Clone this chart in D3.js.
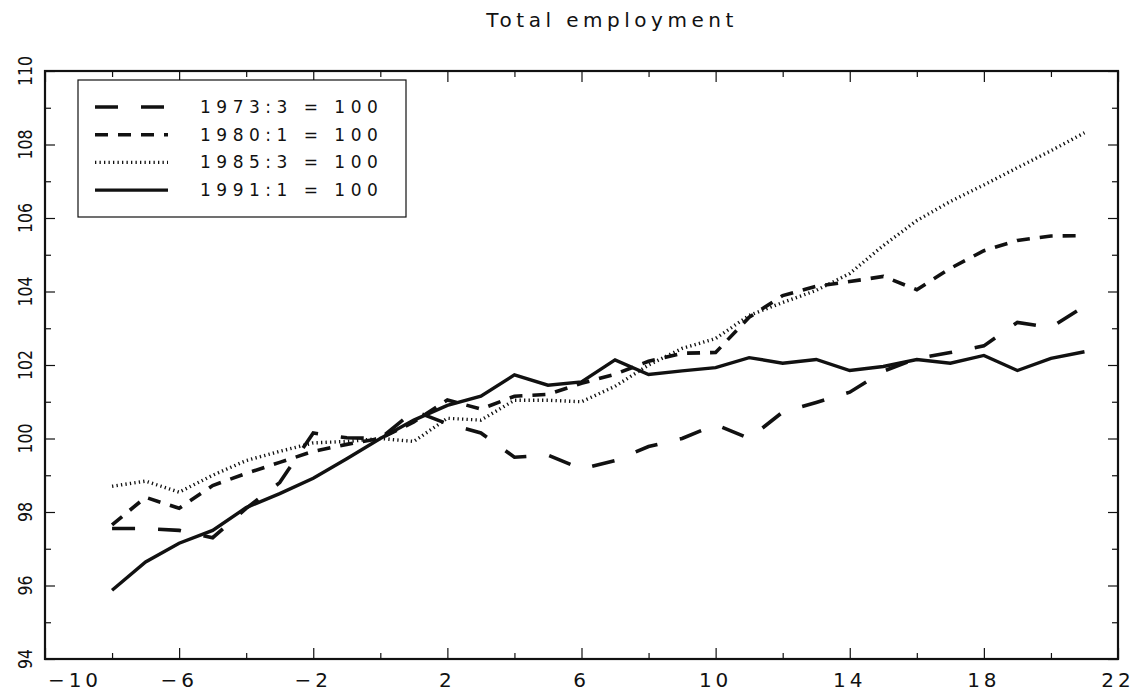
<!DOCTYPE html>
<html>
<head>
<meta charset="utf-8">
<script src="https://cdn.jsdelivr.net/npm/d3@7"></script>
<style>
  html, body { margin: 0; padding: 0; background: #fff; }
  svg { display: block; }
  text { font-family: "DejaVu Sans", sans-serif; fill: #111; }
</style>
</head>
<body>
<svg id="chart" width="1141" height="693"></svg>
<script>
// Quarters relative to the base quarter (base = 100)
const quarters = [-8,-7,-6,-5,-4,-3,-2,-1,0,1,2,3,4,5,6,7,8,9,10,11,12,13,14,15,16,17,18,19,20,21];

const emp1973 = [97.55,97.55,97.5,97.3,98.1,98.8,100.15,100.02,100,100.75,100.4,100.15,99.49,99.55,99.17,99.4,99.78,100.0,100.38,100.0,100.72,100.98,101.26,101.83,102.18,102.34,102.52,103.16,103.02,103.6];
const emp1980 = [97.65,98.4,98.1,98.72,99.05,99.35,99.65,99.84,100,100.45,101.05,100.8,101.15,101.2,101.5,101.75,102.1,102.32,102.34,103.3,103.89,104.14,104.27,104.41,104.05,104.63,105.11,105.39,105.51,105.52];
const emp1985 = [98.7,98.84,98.54,99.0,99.4,99.65,99.88,99.92,100,99.92,100.55,100.5,101.04,101.04,101.0,101.42,102.0,102.45,102.72,103.35,103.7,104.03,104.49,105.25,105.93,106.45,106.9,107.37,107.83,108.32];
const emp1991 = [95.87,96.64,97.15,97.5,98.12,98.5,98.92,99.45,100,100.5,100.9,101.15,101.73,101.45,101.54,102.14,101.74,101.84,101.93,102.2,102.05,102.15,101.85,101.96,102.15,102.05,102.26,101.85,102.18,102.36];

const seriesLabels = ["1973:3 = 100", "1980:1 = 100", "1985:3 = 100", "1991:1 = 100"];
const xTickLabels = [-10,-6,-2,2,6,10,14,18,22];
const xMinorTicks = [-8,-4,0,4,8,12,16,20];
const yTickLabels = [94,96,98,100,102,104,106,108,110];
const yMinorTicks = [95,97,99,101,103,105,107,109];

const title = "Total employment";

const svg = d3.select("#chart");
const plot = { left: 45, right: 1118, top: 71, bottom: 659 };

const x = d3.scaleLinear().domain([-10, 22]).range([plot.left, plot.right]);
const y = d3.scaleLinear().domain([94, 110]).range([plot.bottom, plot.top]);

// Title
svg.append("text")
  .attr("x", 612).attr("y", 27)
  .attr("text-anchor", "middle")
  .attr("font-size", 20)
  .attr("letter-spacing", 4.5)
  .text(title);

// Inward ticks on all four sides
function tickAxis(gen, values, size, transform) {
  svg.append("g")
    .attr("transform", transform)
    .call(gen.tickValues(values).tickSize(size).tickFormat(""))
    .call(g => g.select(".domain").remove())
    .call(g => g.selectAll("line").attr("stroke", "#111").attr("stroke-width", 1.2));
}
tickAxis(d3.axisBottom(x), xTickLabels, -11, `translate(0,${plot.bottom})`);
tickAxis(d3.axisBottom(x), xMinorTicks, -6, `translate(0,${plot.bottom})`);
tickAxis(d3.axisTop(x), xTickLabels, -11, `translate(0,${plot.top})`);
tickAxis(d3.axisTop(x), xMinorTicks, -6, `translate(0,${plot.top})`);
tickAxis(d3.axisLeft(y), yTickLabels, -10, `translate(${plot.left},0)`);
tickAxis(d3.axisLeft(y), yMinorTicks, -6, `translate(${plot.left},0)`);
tickAxis(d3.axisRight(y), yTickLabels, -10, `translate(${plot.right},0)`);
tickAxis(d3.axisRight(y), yMinorTicks, -6, `translate(${plot.right},0)`);

// Tick labels; the first x label is nudged right to clear the corner "94"
const fmt = d3.format("d");
svg.append("g").selectAll("text")
  .data(xTickLabels).join("text")
  .attr("x", (d, i) => x(d) + (i === 0 ? 30 : 0)).attr("y", plot.bottom + 28)
  .attr("text-anchor", "middle")
  .attr("font-size", 20)
  .attr("letter-spacing", 4)
  .text(d => fmt(d));

svg.append("g").selectAll("text")
  .data(yTickLabels).join("text")
  .attr("transform", d => `translate(${plot.left - 13},${y(d)}) rotate(-90)`)
  .attr("text-anchor", "middle")
  .attr("font-size", 19)
  .attr("textLength", d => String(d).length * 10)
  .attr("lengthAdjust", "spacingAndGlyphs")
  .text(d => d);

// Frame
svg.append("rect")
  .attr("x", plot.left).attr("y", plot.top)
  .attr("width", plot.right - plot.left).attr("height", plot.bottom - plot.top)
  .attr("fill", "none").attr("stroke", "#111").attr("stroke-width", 2.2);

// Series
const series = [
  { label: seriesLabels[0], values: emp1973, dash: "23,23", width: 3.6 },
  { label: seriesLabels[1], values: emp1980, dash: "13,10", width: 3.6 },
  { label: seriesLabels[2], values: emp1985, dash: "1.3,3.2", width: 3.4 },
  { label: seriesLabels[3], values: emp1991, dash: null, width: 3.4 }
];

const line = d3.line()
  .x((d, i) => x(quarters[i]))
  .y(d => y(d));

svg.append("g").selectAll("path")
  .data(series).join("path")
  .attr("d", s => line(s.values))
  .attr("fill", "none")
  .attr("stroke", "#111")
  .attr("stroke-width", s => s.width)
  .attr("stroke-dasharray", s => s.dash);

// Legend
const legend = svg.append("g");
legend.append("rect")
  .attr("x", 78).attr("y", 80).attr("width", 328).attr("height", 137)
  .attr("fill", "#fff").attr("stroke", "#111").attr("stroke-width", 1.2);

const rows = legend.selectAll("g.row")
  .data(series).join("g")
  .attr("class", "row")
  .attr("transform", (d, i) => `translate(0,${107 + i * 27.7})`);

rows.append("line")
  .attr("x1", 95).attr("x2", 168)
  .attr("stroke", "#111")
  .attr("stroke-width", s => s.width)
  .attr("stroke-dasharray", s => s.dash);

rows.append("text")
  .attr("x", 200).attr("y", 6)
  .attr("font-size", 17)
  .attr("letter-spacing", 5.5)
  .text(s => s.label);
</script>
</body>
</html>
